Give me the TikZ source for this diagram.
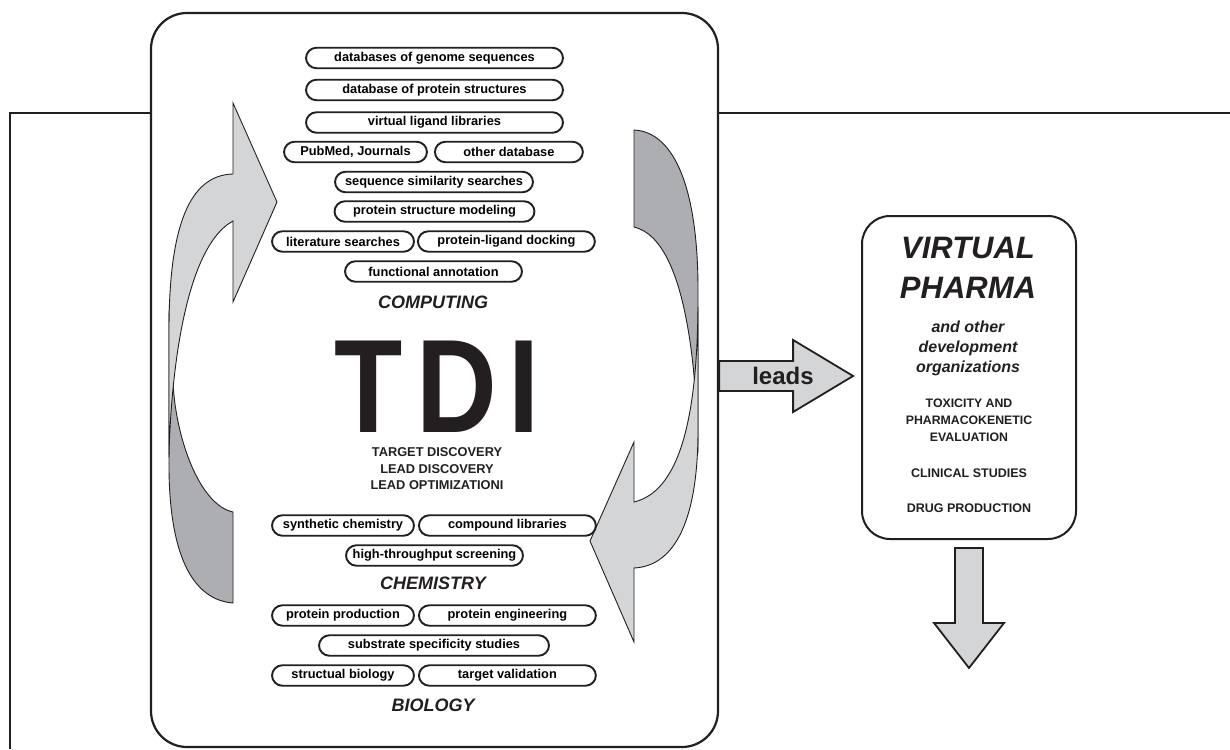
\documentclass[tikz,border=0pt]{standalone}
\usepackage{fontspec}
\setmainfont{Liberation Sans}
\usepackage{tikz}
\usetikzlibrary{positioning,calc}
\definecolor{ink}{RGB}{35,31,32}
\definecolor{lightband}{RGB}{212,213,215}
\definecolor{darkband}{RGB}{173,174,177}
\newcommand{\pillfont}{\fontsize{12.8}{15}\selectfont\bfseries}
\newcommand{\areafont}{\fontsize{18}{20}\selectfont\bfseries\itshape}
\newcommand{\capsfont}{\fontsize{12.8}{16.5}\selectfont\bfseries}

\begin{document}
\begin{tikzpicture}[
    x=1pt, y=-1pt,
    pill/.style={draw=ink, line width=1.9pt, rounded corners=10.5pt, minimum height=20.5pt, inner sep=0pt, font=\pillfont},
    area/.style={font=\areafont, text=ink},
    bigbox/.style={draw=ink, line width=2.2pt, fill=white, inner sep=0pt},
    band/.style={draw=ink, line width=0.9pt},
    fatarrow/.style={draw=ink, line width=1.8pt, fill=lightband}
]
    \useasboundingbox (0,0) rectangle (1230,749);

    % Frame behind the boxes
    \draw[ink, line width=1.6pt] (10,749) -- (10,113) -- (1230,113);

    % Main box
    \node[bigbox, rounded corners=36pt, minimum width=567, minimum height=734] (tdi) at (434.5,380) {};

    % Cycle bands
    \draw[band, fill=darkband] (169,310) -- (169,470) .. controls (170,560) and (195,600) .. (233,603) -- (233,512)
        .. controls (200,505) and (176,440) .. (173,383) .. controls (171,350) and (169,330) .. (169,310) -- cycle;
    \draw[band, fill=lightband] (233,174) .. controls (190,175) and (169,225) .. (169,330) -- (169,457)
        .. controls (170,400) and (180,250) .. (233,221) -- (233,302) -- (277,202) -- (233,103) -- cycle;
    \draw[band, fill=darkband] (634,130) .. controls (675,132) and (698,190) .. (698,290) -- (698,453)
        .. controls (697,390) and (690,240) .. (634,227) -- cycle;
    \draw[band, fill=lightband] (634,568) .. controls (675,566) and (698,520) .. (698,430) -- (698,307)
        .. controls (697,400) and (685,490) .. (634,502) -- (634,442) -- (590,541) -- (634,642) -- cycle;

    % Computing
    \node[pill, minimum width=257] (genome) at (434.5,58) {databases of genome sequences};
    \node[pill, minimum width=257] (protstruct) at (434.5,90) {database of protein structures};
    \node[pill, minimum width=257] (ligands) at (434.5,122.5) {virtual ligand libraries};
    \node[pill, minimum width=143] (pubmed) at (355.5,152) {PubMed, Journals};
    \node[pill, minimum width=148, right=6pt of pubmed] (otherdb) {other database};
    \node[pill, minimum width=198] (simsearch) at (434,182) {sequence similarity searches};
    \node[pill, minimum width=200] (modeling) at (434.5,211.5) {protein structure modeling};
    \node[pill, minimum width=142] (litsearch) at (343,241.5) {literature searches};
    \node[pill, minimum width=177, right=2pt of litsearch] (docking) {protein-ligand docking};
    \node[pill, minimum width=177] (annotation) at (433.5,271.5) {functional annotation};
    \node[area] (computing) at (433,302) {COMPUTING};

    % TDI
    \node[anchor=base, text=ink, inner sep=0pt, text depth=0pt] (tdiname) at (437,432)
        {\scalebox{0.84}[1]{\fontsize{133}{133}\selectfont\bfseries T\hspace{16pt}D\hspace{14pt}I}};
    \node[align=center, font=\capsfont, text=ink, inner sep=0pt] (goals) at (437,469)
        {TARGET DISCOVERY\\LEAD DISCOVERY\\LEAD OPTIMIZATIONI};

    % Chemistry
    \node[pill, minimum width=142] (synth) at (343,525.5) {synthetic chemistry};
    \node[pill, minimum width=177, right=3pt of synth] (compound) {compound libraries};
    \node[pill, minimum width=177] (hts) at (434.5,555.5) {high-throughput screening};
    \node[area] (chemistry) at (433,583) {CHEMISTRY};

    % Biology
    \node[pill, minimum width=142] (production) at (343,615.5) {protein production};
    \node[pill, minimum width=177, right=3pt of production] (engineering) {protein engineering};
    \node[pill, minimum width=230] (substrate) at (434,645.5) {substrate specificity studies};
    \node[pill, minimum width=142] (structbio) at (343,675.5) {structual biology};
    \node[pill, minimum width=177, right=3pt of structbio] (validation) {target validation};
    \node[area] (biology) at (433,705) {BIOLOGY};

    % Virtual pharma
    \node[bigbox, line width=2pt, rounded corners=28pt, minimum width=214, minimum height=323] (pharma) at (969,377.5) {};
    \node[align=center, text=ink, font=\fontsize{31}{40}\selectfont\bfseries\itshape] (vp) at (968,268) {VIRTUAL\\PHARMA};
    \node[align=center, text=ink, font=\fontsize{16}{20}\selectfont\bfseries\itshape] (others) at (968,348) {and other\\development\\organizations};
    \node[align=center, text=ink, font=\fontsize{12.3}{17}\selectfont\bfseries] (tox) at (969,420) {TOXICITY AND\\PHARMACOKENETIC\\EVALUATION};
    \node[text=ink, font=\fontsize{12.5}{15}\selectfont\bfseries] (clinical) at (969,473) {CLINICAL STUDIES};
    \node[text=ink, font=\fontsize{12.5}{15}\selectfont\bfseries] (drug) at (969,508) {DRUG PRODUCTION};

    % Arrows
    \draw[fatarrow] ($(tdi.east)+(0,-19)$) -- ++(74,0) -- ++(0,-21) -- ++(60,36) -- ++(-60,36) -- ++(0,-21) -- ++(-74,0) -- cycle;
    \node[text=ink, font=\fontsize{24}{26}\selectfont\bfseries] (leads) at (783,376) {leads};
    \draw[fatarrow] ($(pharma.south)+(-14,8)$) -- ++(0,75) -- ++(-21,0) -- ++(35,45) -- ++(35,-45) -- ++(-21,0) -- ++(0,-75) -- cycle;
\end{tikzpicture}
\end{document}
